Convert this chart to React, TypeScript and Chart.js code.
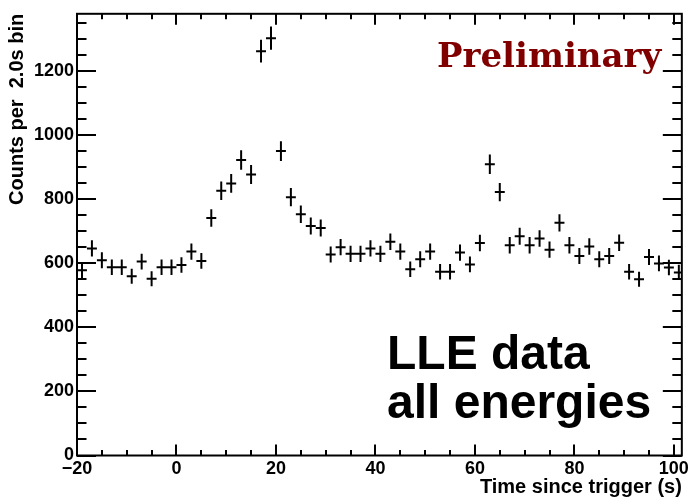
import React, { useEffect, useRef } from "react";
import { Chart, registerables } from "chart.js";

Chart.register(...registerables);

// Bin centres (s), 2.0 s bins
const binCenters = [
  -19, -17, -15, -13, -11, -9, -7, -5, -3, -1,
  1, 3, 5, 7, 9, 11, 13, 15, 17, 19,
  21, 23, 25, 27, 29, 31, 33, 35, 37, 39,
  41, 43, 45, 47, 49, 51, 53, 55, 57, 59,
  61, 63, 65, 67, 69, 71, 73, 75, 77, 79,
  81, 83, 85, 87, 89, 91, 93, 95, 97, 99,
  101,
];

// Counts per bin
const counts = [
  579, 647, 610, 588, 588, 560, 606, 552, 588, 588,
  595, 637, 608, 742, 827, 850, 923, 878, 1263, 1304,
  951, 807, 754, 717, 711, 628, 651, 630, 630, 647,
  630, 668, 637, 582, 613, 637, 574, 574, 634, 597,
  664, 910, 823, 657, 685, 657, 678, 643, 727, 657,
  623, 653, 613, 623, 665, 574, 551, 620, 600, 587,
  572,
];

const binHalfWidth = 1;

const xMajorTicks = [-20, 0, 20, 40, 60, 80, 100];
const yMajorTicks = [0, 200, 400, 600, 800, 1000, 1200];
const xMinorStep = 5;
const yMinorStep = 50;

const X_MIN = -20;
const X_MAX = 101.6;
const Y_MIN = 0;
const Y_MAX = 1380;

const SANS = '"Liberation Sans", Arial, Helvetica, sans-serif';

const rootPlugin = {
  id: "rootStyle",
  afterDatasetsDraw(chart: any) {
    const { ctx, chartArea: a, scales } = chart;
    const x = scales.x;
    const y = scales.y;
    ctx.save();
    ctx.strokeStyle = "#000";
    ctx.lineWidth = 2;
    ctx.lineCap = "butt";

    // error bars
    ctx.save();
    ctx.beginPath();
    ctx.rect(a.left, a.top, a.right - a.left, a.bottom - a.top);
    ctx.clip();
    ctx.beginPath();
    binCenters.forEach((c, i) => {
      const n = counts[i];
      const err = Math.sqrt(n);
      const px = x.getPixelForValue(c);
      const py = y.getPixelForValue(n);
      ctx.moveTo(x.getPixelForValue(c - binHalfWidth), py);
      ctx.lineTo(x.getPixelForValue(c + binHalfWidth), py);
      ctx.moveTo(px, y.getPixelForValue(n + err));
      ctx.lineTo(px, y.getPixelForValue(n - err));
    });
    ctx.stroke();
    ctx.restore();

    // ticks
    ctx.beginPath();
    for (let v = X_MIN; v <= X_MAX; v += xMinorStep) {
      const major = xMajorTicks.includes(v);
      const len = major ? 11 : 5.5;
      const px = Math.round(x.getPixelForValue(v));
      ctx.moveTo(px, a.bottom);
      ctx.lineTo(px, a.bottom - len);
      ctx.moveTo(px, a.top);
      ctx.lineTo(px, a.top + len);
    }
    for (let v = Y_MIN; v <= Y_MAX; v += yMinorStep) {
      const major = yMajorTicks.includes(v);
      const len = major ? 19 : 9.5;
      const py = Math.round(y.getPixelForValue(v));
      ctx.moveTo(a.left, py);
      ctx.lineTo(a.left + len, py);
      ctx.moveTo(a.right, py);
      ctx.lineTo(a.right - len, py);
    }
    ctx.stroke();

    // frame
    ctx.strokeRect(a.left, a.top, a.right - a.left, a.bottom - a.top);

    // annotations
    ctx.fillStyle = "#800000";
    ctx.font = 'bold 34px "DejaVu Serif", serif';
    ctx.textAlign = "left";
    ctx.textBaseline = "alphabetic";
    ctx.fillText("Preliminary", 437, 67);

    ctx.fillStyle = "#000";
    ctx.font = "bold 48px " + SANS;
    ctx.fillText("LLE data", 387, 369);
    ctx.fillText("all energies", 387, 418);
    ctx.restore();
  },
};

export default function App() {
  const ref = useRef<HTMLCanvasElement | null>(null);

  useEffect(() => {
    document.body.style.margin = "0";
    const canvas = ref.current;
    if (!canvas) return;
    const chart = new Chart(canvas, {
      type: "scatter",
      data: {
        datasets: [
          {
            data: binCenters.map((c, i) => ({ x: c, y: counts[i] })),
            pointRadius: 0,
            pointHoverRadius: 0,
            showLine: false,
          },
        ],
      },
      options: {
        responsive: false,
        animation: false,
        devicePixelRatio: 1,
        layout: { padding: { top: 12, right: 9, left: 0, bottom: 0 } },
        plugins: {
          legend: { display: false },
          tooltip: { enabled: false },
        },
        events: [],
        scales: {
          x: {
            type: "linear",
            min: X_MIN,
            max: X_MAX,
            afterBuildTicks: (s: any) => {
              s.ticks = xMajorTicks.map((v) => ({ value: v }));
            },
            afterFit: (s: any) => {
              s.height = 45.5;
            },
            grid: { display: false, drawTicks: false },
            border: { display: false },
            ticks: {
              padding: 3,
              color: "#000",
              maxRotation: 0,
              autoSkip: false,
              font: { family: SANS, size: 18, weight: "bold" },
              callback: (v: any) => String(v).replace("-", "\u2212"),
            },
            title: {
              display: true,
              text: "Time since trigger (s)",
              align: "end",
              color: "#000",
              padding: { top: 0, bottom: 2 },
              font: { family: SANS, size: 20, weight: "bold" },
            },
          },
          y: {
            type: "linear",
            min: Y_MIN,
            max: Y_MAX,
            afterBuildTicks: (s: any) => {
              s.ticks = yMajorTicks.map((v) => ({ value: v }));
            },
            afterFit: (s: any) => {
              s.width = 77;
            },
            grid: { display: false, drawTicks: false },
            border: { display: false },
            ticks: {
              padding: 3,
              color: "#000",
              autoSkip: false,
              font: { family: SANS, size: 18, weight: "bold" },
              callback: (v: any) => String(v),
            },
            title: {
              display: true,
              text: "Counts per  2.0s bin",
              align: "end",
              color: "#000",
              padding: { top: 5, bottom: 0 },
              font: { family: SANS, size: 20, weight: "bold" },
            },
          },
        },
      },
      plugins: [rootPlugin],
    } as any);
    return () => chart.destroy();
  }, []);

  return (
    <canvas
      ref={ref}
      width={692}
      height={501}
      style={{ display: "block", width: 692, height: 501 }}
    />
  );
}
